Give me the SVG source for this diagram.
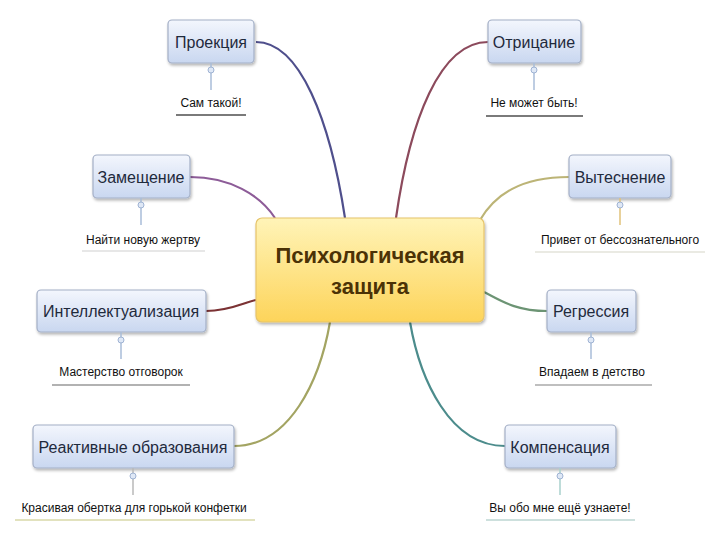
<svg xmlns="http://www.w3.org/2000/svg" width="720" height="540" viewBox="0 0 720 540">
<defs>
<linearGradient id="gTopic" x1="0" y1="0" x2="0" y2="1">
<stop offset="0" stop-color="#f3f6fd"/>
<stop offset="1" stop-color="#c9d7f0"/>
</linearGradient>
<linearGradient id="gCenter" x1="0" y1="0" x2="0" y2="1">
<stop offset="0" stop-color="#fff4b8"/>
<stop offset="1" stop-color="#fdd45a"/>
</linearGradient>
<filter id="sh" x="-10%" y="-10%" width="130%" height="140%">
<feGaussianBlur in="SourceAlpha" stdDeviation="1.5"/>
<feOffset dx="1" dy="2" result="b"/>
<feComponentTransfer><feFuncA type="linear" slope="0.3"/></feComponentTransfer>
<feMerge><feMergeNode/><feMergeNode in="SourceGraphic"/></feMerge>
</filter>
</defs>
<style>
.topic{fill:url(#gTopic);stroke:#a3afc6;stroke-width:1.2;filter:url(#sh)}
.center{fill:url(#gCenter);stroke:#e6c46a;stroke-width:1.2;filter:url(#sh)}
.tt{font-family:"Liberation Sans","DejaVu Sans",sans-serif;font-size:16px;fill:#1f2a3c;text-anchor:middle}
.ct{font-family:"Liberation Sans","DejaVu Sans",sans-serif;font-size:22px;font-weight:bold;fill:#4b3206;text-anchor:middle}
.st{font-family:"Liberation Sans","DejaVu Sans",sans-serif;font-size:12px;fill:#111;text-anchor:middle}
.ul{stroke:#7a7a7a;stroke-width:2}
.stem{stroke:#a8bcd8;stroke-width:1.5;fill:none}
.knob{fill:#dfe8f6;stroke:#9fb3d3;stroke-width:1}
.con{fill:none;stroke-width:2.2}
</style>
<g id="connectors">
<path class="con" stroke="#4f4f8c" d="M256,42 C300,42 330,120 345,218"/>
<path class="con" stroke="#8c4a5c" d="M488,42 C440,42 410,120 396,218"/>
<path class="con" stroke="#8d5c98" d="M190,177 C230,177 260,195 275,218"/>
<path class="con" stroke="#bcb476" d="M569,177 C520,177 495,195 480,220"/>
<path class="con" stroke="#7b3234" d="M206,311 C230,311 245,302 256,300"/>
<path class="con" stroke="#6c9474" d="M547,311 C515,311 500,300 484,292"/>
<path class="con" stroke="#a3a462" d="M234,446 C290,446 320,380 330,322"/>
<path class="con" stroke="#4c8c8c" d="M505,446 C450,446 420,380 410,322"/>
</g>
<g id="center">
<rect class="center" x="256" y="218" width="228" height="104" rx="6"/>
<text class="ct" x="370" y="263">Психологическая</text>
<text class="ct" x="370" y="294">защита</text>
</g>
<g id="proekcia">
<rect class="topic" x="168" y="20" width="86" height="43" rx="4"/>
<text class="tt" x="211" y="48">Проекция</text>
<line class="stem" x1="211" y1="63" x2="211" y2="90"/>
<circle class="knob" cx="211" cy="70" r="3"/>
<text class="st" x="211" y="107">Сам такой!</text>
<line class="ul" x1="176" y1="115" x2="246" y2="115"/>
</g>
<g id="otricanie">
<rect class="topic" x="488" y="20" width="93" height="43" rx="4"/>
<text class="tt" x="534" y="48">Отрицание</text>
<line class="stem" x1="534" y1="63" x2="534" y2="90"/>
<circle class="knob" cx="534" cy="70" r="3"/>
<text class="st" x="534" y="107">Не может быть!</text>
<line class="ul" x1="486" y1="116" x2="583" y2="116"/>
</g>
<g id="zameshchenie">
<rect class="topic" x="93" y="155" width="97" height="43" rx="4"/>
<text class="tt" x="141" y="183">Замещение</text>
<line class="stem" x1="141" y1="198" x2="141" y2="225"/>
<circle class="knob" cx="141" cy="205" r="3"/>
<text class="st" x="143" y="244">Найти новую жертву</text>
<line class="ul" x1="82" y1="251" x2="205" y2="251" style="stroke:#cfcfcf;stroke-width:1.2"/>
</g>
<g id="vytesnenie">
<rect class="topic" x="569" y="155" width="102" height="43" rx="4"/>
<text class="tt" x="620" y="183">Вытеснение</text>
<line class="stem" x1="620" y1="198" x2="620" y2="225" style="stroke:#e0c27a"/>
<circle class="knob" cx="620" cy="205" r="3"/>
<text class="st" x="620" y="244">Привет от бессознательного</text>
<line class="ul" x1="535" y1="252" x2="705" y2="252" style="stroke:#d6d6c8;stroke-width:1.2"/>
</g>
<g id="intellekt">
<rect class="topic" x="37" y="290" width="169" height="42" rx="4"/>
<text class="tt" x="121" y="317">Интеллектуализация</text>
<line class="stem" x1="121" y1="332" x2="121" y2="359"/>
<circle class="knob" cx="121" cy="340" r="3"/>
<text class="st" x="121" y="376">Мастерство отговорок</text>
<line class="ul" x1="52" y1="385" x2="190" y2="385" style="stroke:#999;stroke-width:1.3"/>
</g>
<g id="regressia">
<rect class="topic" x="547" y="290" width="89" height="42" rx="4"/>
<text class="tt" x="591" y="317">Регрессия</text>
<line class="stem" x1="591" y1="332" x2="591" y2="359"/>
<circle class="knob" cx="591" cy="340" r="3"/>
<text class="st" x="592" y="376">Впадаем в детство</text>
<line class="ul" x1="535" y1="385" x2="652" y2="385" style="stroke:#aaa;stroke-width:1.3"/>
</g>
<g id="reaktivnye">
<rect class="topic" x="33" y="425" width="201" height="43" rx="4"/>
<text class="tt" x="133" y="453">Реактивные образования</text>
<line class="stem" x1="133" y1="468" x2="133" y2="495" style="stroke:#b8b8b8"/>
<circle class="knob" cx="133" cy="476" r="3"/>
<text class="st" x="134" y="512">Красивая обертка для горькой конфетки</text>
<line class="ul" x1="15" y1="520" x2="255" y2="520" style="stroke:#d8d8a8;stroke-width:1.5"/>
</g>
<g id="kompensacia">
<rect class="topic" x="505" y="425" width="111" height="43" rx="4"/>
<text class="tt" x="560" y="453">Компенсация</text>
<line class="stem" x1="560" y1="468" x2="560" y2="495" style="stroke:#a8d0cc"/>
<circle class="knob" cx="560" cy="476" r="3"/>
<text class="st" x="560" y="512">Вы обо мне ещё узнаете!</text>
<line class="ul" x1="486" y1="520" x2="635" y2="520" style="stroke:#bcd6d2;stroke-width:1.5"/>
</g>
</svg>
